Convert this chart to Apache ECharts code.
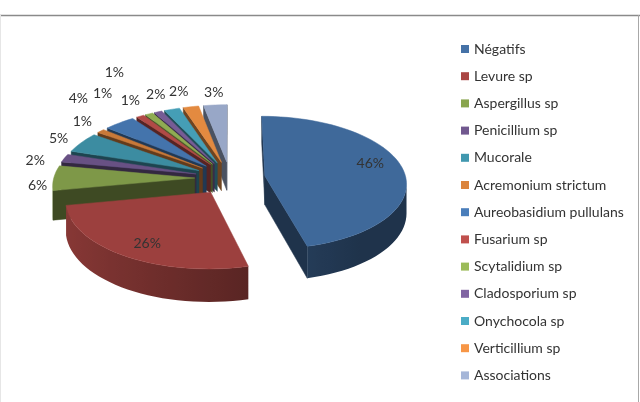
<!DOCTYPE html>
<html>
<head>
<meta charset="utf-8">
<style>html,body{margin:0;padding:0;background:#fff}#chart{width:640px;height:402px}</style>
<script src="https://cdn.jsdelivr.net/npm/echarts@6/dist/echarts.min.js"></script>
</head>
<body>
<div id="chart"></div>
<script>
// Share of each result, in percent
const categories = ['Négatifs','Levure sp','Aspergillus sp','Penicillium sp','Mucorale','Acremonium strictum','Aureobasidium pullulans','Fusarium sp','Scytalidium sp','Cladosporium sp','Onychocola sp','Verticillium sp','Associations'];
const shares = [46,26,6,2,5,1,4,1,1,1,2,2,3];
const colors = ['#4572a7','#aa4643','#89a54e','#71588f','#4198af','#db843d','#4a7ebb','#c0504d','#9bbb59','#8064a2','#4bacc6','#f79646','#a5b6d8'];

// Percent label placement: distance from the pie centre, then a pixel nudge
const labelReach = [0.95,0.8,1.4,1.4,1.4,1.4,1.4,1.4,1.4,1.4,1.4,1.4,1.4];
const labelNudge = [[9,-7],[-18,18],[5,7],[-10,5],[-6,0],[-4,-4],[-29,-18],[-28,-16],[-26,-35],[-20,-4],[-10,-7],[-8,-8],[0,-5]];

// Projection of the tilted pie onto the page
const view = {cx:230, cy:178, rx:141, ry:66, perspective:0.1, depth:29, explode:0.25};
const total = shares.reduce((a,b)=>a+b,0);
const starts = [];
shares.reduce((sum,v,i)=>{starts[i]=sum;return sum+v;},0);

function project(X,Y){
  const s = 1/(1-view.perspective*Y);
  return [view.cx+view.rx*X*s, view.cy+view.ry*Y*s, s];
}
const shade = (c,f)=>echarts.color.lerp(1-f,[c,'#000000']);
const rimTone = a=>Math.max(0.45,0.58-0.22*Math.sin(a));
const dropped = p=>[p[0],p[1]+view.depth*p[2]];

function drawSlice(i,value){
  const a0 = starts[i]/total*2*Math.PI, a1 = (starts[i]+value)/total*2*Math.PI, mid = (a0+a1)/2;
  const ox = Math.sin(mid)*view.explode, oy = -Math.cos(mid)*view.explode;
  const steps = Math.max(2,Math.ceil((a1-a0)/0.05));
  const apex = project(ox,oy), rim = [];
  for(let k=0;k<=steps;k++){
    const a = a0+(a1-a0)*k/steps;
    rim.push({p:project(ox+Math.sin(a),oy-Math.cos(a)),a});
  }
  const color = colors[i], children = [], wall = shade(color,0.45);
  const flat = (p,q)=>({type:'polygon',shape:{points:[p.slice(0,2),q.slice(0,2),dropped(q),dropped(p)]},
    style:{fill:wall,stroke:wall,lineWidth:0.5}});

  // Cut faces show when their top edge runs leftwards along the clockwise outline
  const first = rim[0].p, last = rim[rim.length-1].p;
  if(first[0]<apex[0]) children.push(flat(apex,first));
  if(apex[0]<last[0]) children.push(flat(last,apex));

  // Outer wall: the part of the rim running leftwards, shaded along its length
  const front = rim.filter((pt,k)=>(rim[k+1]&&rim[k+1].p[0]<pt.p[0])||(rim[k-1]&&pt.p[0]<rim[k-1].p[0]));
  if(front.length>1){
    const xHi = front[0].p[0], xLo = front[front.length-1].p[0];
    children.push({type:'polygon',
      shape:{points:front.map(o=>o.p.slice(0,2)).concat(front.slice().reverse().map(o=>dropped(o.p)))},
      style:{fill:new echarts.graphic.LinearGradient(0,0,1,0,
        front.slice().reverse().map(o=>({offset:(o.p[0]-xLo)/(xHi-xLo||1),color:shade(color,rimTone(o.a))}))),
        lineWidth:0}});
  }

  const topFill = shade(color,0.92);
  children.push({type:'polygon',
    shape:{points:[apex.slice(0,2)].concat(rim.map(o=>o.p.slice(0,2)))},
    style:{fill:topFill,stroke:topFill,lineWidth:0.5}});

  const R = labelReach[i], at = project(Math.sin(mid)*R,-Math.cos(mid)*R);
  children.push({type:'text',z2:50,style:{
    x:at[0]+labelNudge[i][0], y:at[1]+labelNudge[i][1],
    text:value+'%', align:'center', verticalAlign:'middle',
    font:'14px Lato', fill:'#333333'}});
  return {type:'group',children};
}

// Slices are stacked from the back of the pie to the front
const depthRank = shares.map((v,i)=>({i,y:-Math.cos((starts[i]+v/2)/total*2*Math.PI)}))
  .sort((a,b)=>a.y-b.y).map(o=>o.i);

const chart = echarts.init(document.getElementById('chart'));
chart.setOption({
  animation:false,
  backgroundColor:'#fff',
  legend:{
    orient:'vertical', left:461, top:42, padding:0, icon:'rect', itemWidth:8, itemHeight:8, itemGap:13.2,
    selectedMode:false, data:categories,
    textStyle:{fontFamily:'Lato',fontSize:14,color:'#333333'}
  },
  graphic:[
    {type:'line',silent:true,shape:{x1:0,y1:15.5,x2:640,y2:15.5},style:{stroke:'#8a8a8a',lineWidth:1.5}},
    {type:'line',silent:true,shape:{x1:638.5,y1:15,x2:638.5,y2:402},style:{stroke:'#a8a8a8',lineWidth:1}},
    {type:'line',silent:true,shape:{x1:0.5,y1:15,x2:0.5,y2:402},style:{stroke:'#e6e6e6',lineWidth:1}}
  ],
  series:categories.map((name,i)=>({
    type:'custom', name, coordinateSystem:'none', silent:true,
    z:2+depthRank.indexOf(i),
    itemStyle:{color:colors[i]},
    data:[[shares[i]]],
    renderItem:(params,api)=>drawSlice(i,api.value(0))
  }))
});
</script>
</body>
</html>
